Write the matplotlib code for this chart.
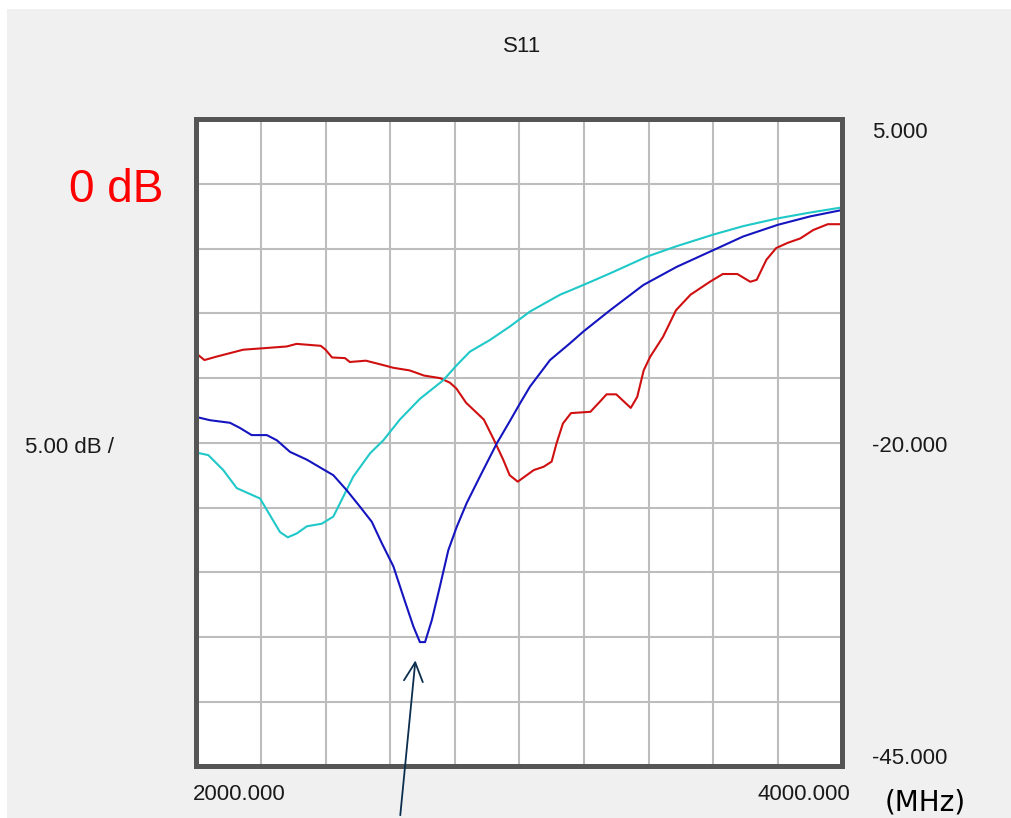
import matplotlib
matplotlib.use("Agg")
import matplotlib.pyplot as plt
from matplotlib.patches import Rectangle

# S11 traces (MHz, dB)
red_freq = [2000, 2025, 2060, 2145, 2200, 2280, 2310, 2385, 2400, 2420, 2460, 2475,
            2525, 2580, 2610, 2660, 2705, 2755, 2785, 2805, 2835, 2890, 2920, 2950,
            2970, 2995, 3045, 3075, 3100, 3115, 3135, 3160, 3220, 3250, 3270, 3300,
            3345, 3365, 3385, 3405, 3445, 3485, 3530, 3590, 3630, 3675, 3715, 3735,
            3765, 3795, 3830, 3870, 3910, 3955, 4000]
red_db = [-13.1, -13.6, -13.35, -12.8, -12.7, -12.55, -12.35, -12.5, -12.8, -13.4, -13.45, -13.75,
          -13.65, -14.0, -14.2, -14.4, -14.8, -15.0, -15.35, -15.8, -16.9, -18.2, -19.7, -21.3,
          -22.5, -23.0, -22.1, -21.85, -21.45, -20.05, -18.5, -17.7, -17.6, -16.8, -16.25, -16.25,
          -17.3, -16.45, -14.4, -13.35, -11.8, -9.75, -8.55, -7.55, -6.95, -6.95, -7.55, -7.4,
          -5.85, -4.95, -4.55, -4.2, -3.55, -3.1, -3.1]

cyan_freq = [2000, 2037, 2083, 2125, 2161, 2197, 2228, 2259, 2283, 2311, 2342, 2388,
             2424, 2455, 2486, 2538, 2579, 2630, 2692, 2765, 2806, 2847, 2909, 2971,
             3033, 3126, 3198, 3281, 3396, 3487, 3601, 3693, 3800, 3900, 4000]
cyan_db = [-20.75, -20.95, -22.1, -23.5, -23.9, -24.3, -25.6, -26.9, -27.3, -27.0, -26.45, -26.25,
           -25.7, -24.15, -22.6, -20.8, -19.8, -18.2, -16.6, -15.15, -14.0, -12.95, -12.05, -11.0,
           -9.85, -8.55, -7.8, -6.9, -5.6, -4.8, -3.9, -3.25, -2.65, -2.2, -1.8]

blue_freq = [2000, 2042, 2104, 2135, 2171, 2218, 2249, 2290, 2342, 2393, 2424, 2465,
             2507, 2543, 2574, 2610, 2641, 2672, 2692, 2708, 2729, 2754, 2780, 2806,
             2837, 2878, 2930, 2971, 3002, 3033, 3095, 3157, 3198, 3281, 3384, 3487,
             3601, 3693, 3800, 3900, 4000]
blue_db = [-18.0, -18.25, -18.45, -18.85, -19.4, -19.4, -19.8, -20.7, -21.3, -22.05, -22.5, -23.65,
           -24.95, -26.1, -27.75, -29.55, -31.9, -34.2, -35.4, -35.4, -33.7, -31.1, -28.3, -26.5,
           -24.65, -22.6, -20.05, -18.3, -16.95, -15.65, -13.6, -12.3, -11.4, -9.75, -7.8, -6.4,
           -5.1, -4.05, -3.15, -2.5, -2.0]

x_ticks = list(range(2000, 4001, 200))
y_ticks = list(range(-45, 6, 5))

W, H = 1012, 818
fig = plt.figure(figsize=(W / 100, H / 100), dpi=100, facecolor='white')
fig.add_artist(Rectangle((7 / W, 0), 1 - 7 / W, 1 - 9 / H, transform=fig.transFigure,
                         facecolor='#f0f0f0', edgecolor='none', zorder=-10))

ax = fig.add_axes([196.4 / W, 1 - 766.3 / H, 645.9 / W, 646.9 / H])
ax.set_facecolor('white')
ax.set_xlim(2000, 4000)
ax.set_ylim(-45, 5)
ax.set_xticks(x_ticks)
ax.set_yticks(y_ticks)
ax.tick_params(length=0, labelbottom=False, labelleft=False)
ax.grid(True, color='#bdbdbd', lw=1.5)
ax.set_axisbelow(True)
for s in ax.spines.values():
    s.set_color('#555555')
    s.set_linewidth(3.6)

ax.plot(red_freq, red_db, color='#d01010', lw=1.5)
ax.plot(cyan_freq, cyan_db, color='#20c8c8', lw=1.5)
ax.plot(blue_freq, blue_db, color='#1515c0', lw=1.5)

# arrow pointing at the blue resonance
ax.annotate('', xy=(2679, -36.6), xycoords='data',
            xytext=(400 / W, 0), textcoords='figure fraction',
            arrowprops=dict(arrowstyle='->', color='#0b2e4f', lw=1.3, mutation_scale=34),
            annotation_clip=False)

small = dict(family='Liberation Sans', fontsize=16, color='#1a1a1a')


def ftext(x, y, s, **kw):
    fig.text(x / W, 1 - y / H, s, **kw)


ftext(522, 46, 'S11', ha='center', va='center', **small)
ftext(25, 447, '5.00 dB /', ha='left', va='center', **small)
ftext(872, 133, '5.000', ha='left', va='center', **small)
ftext(872, 446, '-20.000', ha='left', va='center', **small)
ftext(872, 758, '-45.000', ha='left', va='center', **small)
ftext(193, 795, '2000.000', ha='left', va='center', **small)
ftext(758, 795, '4000.000', ha='left', va='center', **small)
ftext(925, 803, '(MHz)', ha='center', va='center', family='DejaVu Sans', fontsize=20, color='black')
ftext(116, 190, '0 dB', ha='center', va='center', family='Liberation Sans', fontsize=33, color='red')

fig.savefig('out.png', dpi=100, facecolor=fig.get_facecolor())
